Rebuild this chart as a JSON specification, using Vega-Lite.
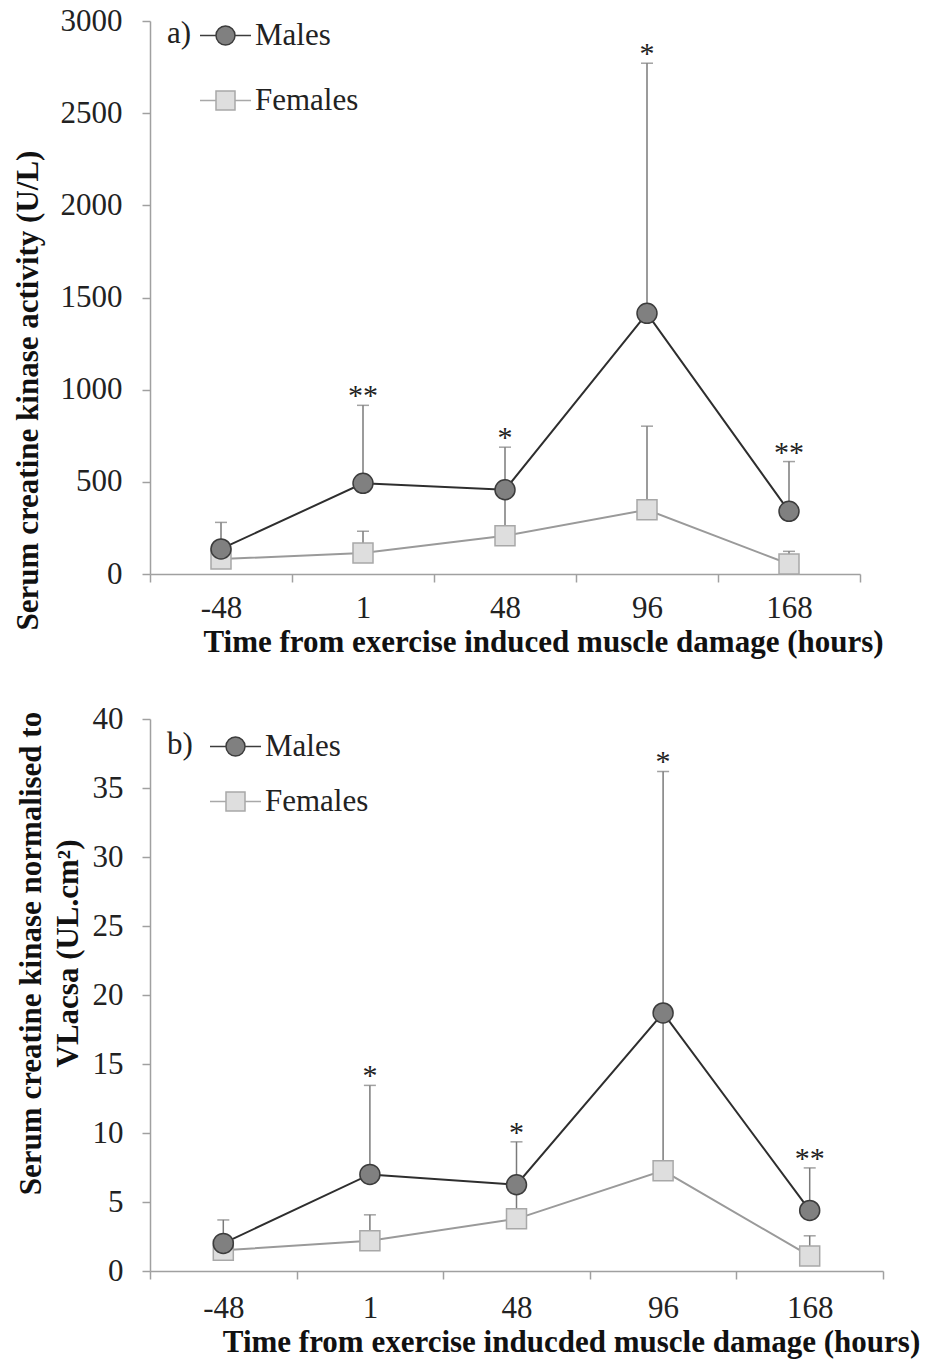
{
  "$schema": "https://vega.github.io/schema/vega-lite/v6.json",
  "padding": {"left": 12, "top": 5, "right": 5, "bottom": 5},
  "bounds": "flush",
  "spacing": 145,
  "background": "white",
  "resolve": {
    "legend": {"shape": "independent", "fill": "independent", "stroke": "independent"},
    "scale": {"shape": "independent", "fill": "independent", "stroke": "independent"}
  },
  "datasets": {
    "a": [
      {"time": "-48", "sex": "Females", "mean": 81, "upper": 150, "sig": ""},
      {"time": "1", "sex": "Females", "mean": 114, "upper": 232, "sig": ""},
      {"time": "48", "sex": "Females", "mean": 207, "upper": 460, "sig": ""},
      {"time": "96", "sex": "Females", "mean": 348, "upper": 802, "sig": ""},
      {"time": "168", "sex": "Females", "mean": 54, "upper": 123, "sig": ""},
      {"time": "-48", "sex": "Males", "mean": 136, "upper": 280, "sig": ""},
      {"time": "1", "sex": "Males", "mean": 492, "upper": 915, "sig": "**"},
      {"time": "48", "sex": "Males", "mean": 457, "upper": 688, "sig": "*"},
      {"time": "96", "sex": "Males", "mean": 1414, "upper": 2771, "sig": "*"},
      {"time": "168", "sex": "Males", "mean": 340, "upper": 610, "sig": "**"}
    ],
    "b": [
      {"time": "-48", "sex": "Females", "mean": 1.5, "upper": 2.5, "sig": ""},
      {"time": "1", "sex": "Females", "mean": 2.2, "upper": 4.07, "sig": ""},
      {"time": "48", "sex": "Females", "mean": 3.78, "upper": 6.3, "sig": ""},
      {"time": "96", "sex": "Females", "mean": 7.27, "upper": 18.5, "sig": ""},
      {"time": "168", "sex": "Females", "mean": 1.09, "upper": 2.55, "sig": ""},
      {"time": "-48", "sex": "Males", "mean": 2.0, "upper": 3.7, "sig": ""},
      {"time": "1", "sex": "Males", "mean": 7.0, "upper": 13.45, "sig": "*"},
      {"time": "48", "sex": "Males", "mean": 6.25, "upper": 9.36, "sig": "*"},
      {"time": "96", "sex": "Males", "mean": 18.7, "upper": 36.2, "sig": "*"},
      {"time": "168", "sex": "Males", "mean": 4.39, "upper": 7.47, "sig": "**"}
    ]
  },
  "config": {
    "view": {"stroke": null},
    "font": "Liberation Serif",
    "axis": {
      "labelFont": "Liberation Serif",
      "titleFont": "Liberation Serif",
      "labelFontSize": 31,
      "titleFontSize": 31,
      "titleFontWeight": "bold",
      "labelColor": "#222222",
      "titleColor": "#111111",
      "domainColor": "#a0a0a0",
      "tickColor": "#a0a0a0",
      "domainWidth": 1.5,
      "tickWidth": 1.5,
      "tickSize": 8,
      "grid": false
    },
    "legend": {
      "labelFont": "Liberation Serif",
      "titleFont": "Liberation Serif",
      "labelFontSize": 31,
      "titleFontSize": 31,
      "titleFontWeight": "normal",
      "labelColor": "#222222",
      "titleColor": "#222222"
    }
  },
  "vconcat": [
    {
      "width": 710,
      "height": 553,
      "data": {"name": "a"},
      "encoding": {
        "x": {
          "field": "time", "type": "ordinal",
          "sort": ["-48", "1", "48", "96", "168"],
          "scale": {"type": "band", "paddingInner": 0, "paddingOuter": 0},
          "axis": {"labelAngle": 0, "tickBand": "extent", "labelPadding": 11, "title": "Time from exercise induced muscle damage (hours)", "titleX": 393, "titleAlign": "center", "titlePadding": 4}
        }
      },
      "layer": [
        {
          "mark": {"type": "rule", "color": "#7a7a7a", "strokeWidth": 1.5},
          "encoding": {
            "y": {"field": "mean", "type": "quantitative", "scale": {"domain": [0, 3000]},
              "axis": {"values": [0, 500, 1000, 1500, 2000, 2500, 3000], "format": "d", "labelPadding": 20, "title": "Serum creatine kinase activity (U/L)", "titleY": 369, "titleAlign": "center", "titlePadding": 16}},
            "y2": {"field": "upper"}
          }
        },
        {
          "mark": {"type": "tick", "color": "#7a7a7a", "thickness": 1.5, "size": 12},
          "encoding": {"y": {"field": "upper", "type": "quantitative"}}
        },
        {
          "mark": {"type": "line", "strokeWidth": 2},
          "encoding": {
            "y": {"field": "mean", "type": "quantitative"},
            "detail": {"field": "sex", "type": "nominal"},
            "color": {"condition": {"test": "datum.sex === 'Males'", "value": "#2e2e2e"}, "value": "#9a9a9a"}
          }
        },
        {
          "mark": {"type": "point", "filled": true, "size": 400, "strokeWidth": 1.5, "opacity": 1},
          "encoding": {
            "y": {"field": "mean", "type": "quantitative"},
            "shape": {"condition": {"test": "datum.sex === 'Males'", "value": "circle"}, "value": "square"},
            "fill": {"condition": {"test": "datum.sex === 'Males'", "value": "#808080"}, "value": "#dedede"},
            "stroke": {"condition": {"test": "datum.sex === 'Males'", "value": "#3c3c3c"}, "value": "#a8a8a8"}
          }
        },
        {
          "mark": {"type": "point", "filled": true, "size": 0, "strokeWidth": 1.5, "opacity": 1},
          "encoding": {
            "y": {"field": "mean", "type": "quantitative"},
            "shape": {"field": "sex", "type": "nominal",
              "scale": {"domain": ["Males", "Females"], "range": ["M-1.645,0H-0.613M0.613,0H1.645M0.613,0A0.613,0.613,0,1,1,-0.613,0A0.613,0.613,0,1,1,0.613,0Z", "M-1.645,0H-0.613M0.613,0H1.645M-0.613,-0.613H0.613V0.613H-0.613Z"]},
              "legend": {
                "title": "a)", "titleOrient": "left", "titleAnchor": "start", "titleBaseline": "top", "titlePadding": 17,
                "orient": "none", "legendX": 17, "legendY": -2,
                "symbolSize": 961, "symbolStrokeWidth": 1.5, "rowPadding": 33, "labelOffset": 13
              }},
            "fill": {"field": "sex", "type": "nominal", "scale": {"domain": ["Males", "Females"], "range": ["#808080", "#dedede"]}},
            "stroke": {"field": "sex", "type": "nominal", "scale": {"domain": ["Males", "Females"], "range": ["#3c3c3c", "#a8a8a8"]}}
          }
        },
        {
          "transform": [{"filter": "datum.sig != ''"}],
          "mark": {"type": "text", "font": "Liberation Serif", "fontSize": 30, "color": "#222222", "baseline": "alphabetic", "dy": 0},
          "encoding": {
            "y": {"field": "upper", "type": "quantitative"},
            "text": {"field": "sig"}
          }
        }
      ]
    },
    {
      "width": 733,
      "height": 552,
      "data": {"name": "b"},
      "encoding": {
        "x": {
          "field": "time", "type": "ordinal",
          "sort": ["-48", "1", "48", "96", "168"],
          "scale": {"type": "band", "paddingInner": 0, "paddingOuter": 0},
          "axis": {"labelAngle": 0, "tickBand": "extent", "labelPadding": 14, "title": "Time from exercise inducded muscle damage (hours)", "titleX": 421, "titleAlign": "center", "titlePadding": 4}
        }
      },
      "layer": [
        {
          "mark": {"type": "rule", "color": "#7a7a7a", "strokeWidth": 1.5},
          "encoding": {
            "y": {"field": "mean", "type": "quantitative", "scale": {"domain": [0, 40]},
              "axis": {"values": [0, 5, 10, 15, 20, 25, 30, 35, 40], "format": "d", "labelPadding": 19, "title": ["Serum creatine kinase normalised to", "VLacsa (UL.cm²)"], "titleLineHeight": 37, "titleY": 234, "titleAlign": "center", "titlePadding": 8}},
            "y2": {"field": "upper"}
          }
        },
        {
          "mark": {"type": "tick", "color": "#7a7a7a", "thickness": 1.5, "size": 12},
          "encoding": {"y": {"field": "upper", "type": "quantitative"}}
        },
        {
          "mark": {"type": "line", "strokeWidth": 2},
          "encoding": {
            "y": {"field": "mean", "type": "quantitative"},
            "detail": {"field": "sex", "type": "nominal"},
            "color": {"condition": {"test": "datum.sex === 'Males'", "value": "#2e2e2e"}, "value": "#9a9a9a"}
          }
        },
        {
          "mark": {"type": "point", "filled": true, "size": 400, "strokeWidth": 1.5, "opacity": 1},
          "encoding": {
            "y": {"field": "mean", "type": "quantitative"},
            "shape": {"condition": {"test": "datum.sex === 'Males'", "value": "circle"}, "value": "square"},
            "fill": {"condition": {"test": "datum.sex === 'Males'", "value": "#808080"}, "value": "#dedede"},
            "stroke": {"condition": {"test": "datum.sex === 'Males'", "value": "#3c3c3c"}, "value": "#a8a8a8"}
          }
        },
        {
          "mark": {"type": "point", "filled": true, "size": 0, "strokeWidth": 1.5, "opacity": 1},
          "encoding": {
            "y": {"field": "mean", "type": "quantitative"},
            "shape": {"field": "sex", "type": "nominal",
              "scale": {"domain": ["Males", "Females"], "range": ["M-1.645,0H-0.613M0.613,0H1.645M0.613,0A0.613,0.613,0,1,1,-0.613,0A0.613,0.613,0,1,1,0.613,0Z", "M-1.645,0H-0.613M0.613,0H1.645M-0.613,-0.613H0.613V0.613H-0.613Z"]},
              "legend": {
                "title": "b)", "titleOrient": "left", "titleAnchor": "start", "titleBaseline": "top", "titlePadding": 26,
                "orient": "none", "legendX": 17, "legendY": 11,
                "symbolSize": 961, "symbolStrokeWidth": 1.5, "rowPadding": 23, "labelOffset": 13
              }},
            "fill": {"field": "sex", "type": "nominal", "scale": {"domain": ["Males", "Females"], "range": ["#808080", "#dedede"]}},
            "stroke": {"field": "sex", "type": "nominal", "scale": {"domain": ["Males", "Females"], "range": ["#3c3c3c", "#a8a8a8"]}}
          }
        },
        {
          "transform": [{"filter": "datum.sig != ''"}],
          "mark": {"type": "text", "font": "Liberation Serif", "fontSize": 30, "color": "#222222", "baseline": "alphabetic", "dy": 0},
          "encoding": {
            "y": {"field": "upper", "type": "quantitative"},
            "text": {"field": "sig"}
          }
        }
      ]
    }
  ]
}
